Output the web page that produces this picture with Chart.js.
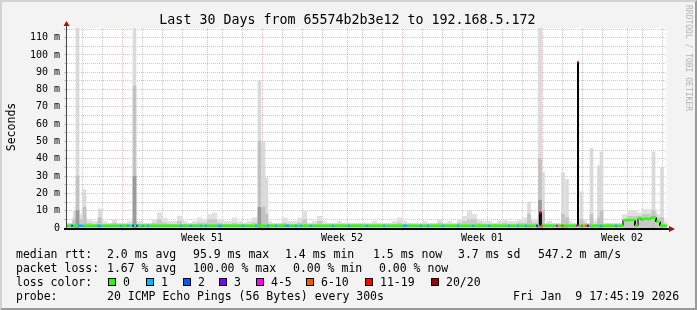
<!DOCTYPE html>
<html>
<head>
<meta charset="utf-8">
<script src="https://cdn.jsdelivr.net/npm/chart.js@4.4.1/dist/chart.umd.min.js"></script>
<style>
  html, body { margin: 0; padding: 0; }
  body { width: 697px; height: 310px; overflow: hidden; position: relative; background: #f3f3f3; }
  #frame { position: absolute; left: 0; top: 0; width: 693px; height: 306px;
    border-top: 2px solid #d2d2d2; border-left: 2px solid #d2d2d2;
    border-right: 2px solid #9a9a9a; border-bottom: 2px solid #9a9a9a; }
  #graph { position: absolute; left: 0; top: 0; }
  .t { position: absolute; font-family: "DejaVu Sans Mono", monospace; white-space: pre; color: #000;
    font-size: 11.5px; line-height: 14px; }
  .box { position: absolute; width: 6px; height: 6px; border: 1px solid #000; }
</style>
</head>
<body>
<div id="frame"></div>
<canvas id="graph" width="697" height="310"></canvas>

<div class="t" style="left:-1px;top:11.5px;width:697px;text-align:center;font-size:13.3px;line-height:16px;">Last 30 Days from 65574b2b3e12 to 192.168.5.172</div>
<div class="t" style="left:693px;top:5px;transform:rotate(90deg);transform-origin:0 0;font-size:8px;line-height:10px;color:#b4b4b4;">RRDTOOL / TOBI OETIKER</div>
<div class="t" style="left:-39px;top:120px;width:100px;text-align:center;transform:rotate(-90deg);">Seconds</div>
<div id="legend"></div>

<script>
// time axis in days since start of the 30 day window, values in ms ("m" = milli seconds)
const weekLabels = ["Week 51", "Week 52", "Week 01", "Week 02"];
const weekStart = [3.25, 10.25, 17.25, 24.25];
const yTicks = [0, 5, 10, 15, 20, 25, 30, 35, 40, 45, 50, 55, 60, 65, 70, 75, 80, 85, 90, 95, 100, 105, 110, 115];

// smoke, one sample every 0.25 day
const sampleDays = 0.25;
const smokeHigh = [
  3, 6, 8, 8, 5, 4, 6, 4, 3, 5,
  3, 3, 4, 4, 4, 3, 3, 5, 9, 6,
  4, 4, 7, 4, 3, 4, 6, 5, 8, 9,
  5, 4, 4, 6, 4, 3, 4, 6, 8, 6,
  4, 3, 3, 6, 4, 4, 6, 10, 3, 4,
  7, 4, 3, 3, 4, 3, 3, 3, 3, 3,
  3, 4, 3, 3, 3, 4, 6, 4, 3, 3,
  3, 4, 3, 3, 5, 3, 4, 3, 5, 7,
  10, 8, 5, 4, 4, 3, 4, 5, 4, 4,
  5, 6, 6, 5, 6, 3, 4, 3, 3, 4,
  4, 3, 4, 5, 3, 4, 4, 3, 3, 3,
  3, 8, 10, 10, 9, 11, 11, 10, 8, 4,
];
const smokeMid = [
  2.4, 4, 5, 5, 3, 2.4, 4, 2.4, 2.4, 3,
  2.4, 2.4, 2.4, 2.4, 2.4, 2.4, 2.4, 3, 5, 3,
  2.4, 2.4, 4, 2.4, 2.4, 2.4, 3, 3, 5, 5,
  3, 2.4, 2.4, 3, 2.4, 2.4, 2.4, 3, 4, 3,
  2.4, 2.4, 2.4, 3, 2.4, 2.4, 3, 5, 2.4, 2.4,
  4, 2.4, 2.4, 2.4, 2.4, 2.4, 2.4, 2.4, 2.4, 2.4,
  2.4, 2.4, 2.4, 2.4, 2.4, 2.4, 3, 2.4, 2.4, 2.4,
  2.4, 2.4, 2.4, 2.4, 3, 2.4, 2.4, 2.4, 3, 4,
  5, 5, 3, 2.4, 2.4, 2.4, 2.4, 3, 2.4, 2.4,
  3, 3, 4, 3, 3, 2.4, 2.4, 2.4, 2.4, 2.4,
  2.4, 2.4, 2.4, 3, 2.4, 2.4, 2.4, 2.4, 2.4, 2.4,
  2.4, 5, 7, 7, 7, 8, 8, 8, 6, 2.4,
];

// narrow smoke spikes
const spikeDays = [0.4, 0.525, 0.875, 1.65, 3.375, 9.625, 9.825, 9.975, 23.1, 23.65, 23.8, 24.8, 25.0, 25.725, 26.225, 26.6, 26.725, 29.325, 29.75];
const spikeTop  = [10, 116, 22, 11, 116, 85, 50, 29, 15, 116, 32, 32, 28, 21, 46, 36, 44, 44, 35];
const spikeMid  = [5, 30, 12, 6, 82, 50, 12, 8, 8, 40, 10, 8, 6, 5, 8, 6, 10, 10, 6];
const spikeDark = [0, 10, 0, 0, 30, 12, 0, 0, 0, 16, 0, 0, 0, 0, 0, 0, 0, 0, 0];

// median rtt as steps: start day, median, lost pings (of 20)
const stepDays = [
  0, 0.2, 0.3, 0.55, 0.8, 1.5, 1.7, 2.65, 2.75, 3.0,
  3.1, 3.25, 3.35, 3.45, 3.55, 3.75, 3.85, 4.0, 4.1, 5.65,
  5.75, 6.15, 6.25, 6.65, 6.75, 6.9, 7.0, 7.55, 7.75, 8.75,
  8.85, 9.4, 9.5, 10.0, 10.1, 10.4, 10.5, 10.9, 11.1, 11.4,
  11.5, 11.65, 11.75, 12.15, 12.25, 13.25, 13.35, 14.05, 14.15, 14.95,
  15.05, 15.8, 15.9, 16.8, 17.0, 17.65, 17.75, 18.0, 18.1, 18.75,
  18.85, 19.5, 19.6, 20.25, 20.35, 21.05, 21.15, 22.05, 22.15, 22.5,
  22.6, 22.9, 23.0, 23.45, 23.55, 23.625, 23.7, 23.8, 24.45, 24.55,
  24.7, 24.85, 25.45, 25.525, 25.575, 25.7, 25.8, 25.9, 26.0, 26.1,
  26.65, 26.75, 27.4, 27.5, 27.8, 28.4, 28.55, 28.7, 28.85, 29.05,
  29.2, 29.45, 29.65,
];
const stepMedian = [
  1.3, 1.3, 1.3, 1.3, 1.3, 1.3, 1.3, 1.3, 1.3, 1.3,
  1.3, 1.3, 1.3, 1.3, 1.3, 1.3, 1.3, 1.3, 1.3, 1.3,
  1.3, 1.3, 1.3, 1.3, 1.3, 1.3, 1.3, 1.3, 1.3, 1.3,
  1.3, 1.3, 1.3, 1.3, 1.3, 1.3, 1.3, 1.3, 1.3, 1.3,
  1.3, 1.3, 1.3, 1.3, 1.3, 1.3, 1.3, 1.3, 1.3, 1.3,
  1.3, 1.3, 1.3, 1.3, 1.3, 1.3, 1.3, 1.3, 1.3, 1.3,
  1.3, 1.3, 1.3, 1.3, 1.3, 1.3, 1.3, 1.3, 1.3, 1.3,
  1.3, 1.3, 1.3, 1.3, 1.3, 9, 1.3, 1.3, 1.3, 1.3,
  1.3, 1.3, 1.3, 95.9, 1.3, 1.3, 1.3, 1.3, 1.3, 1.3,
  1.3, 1.3, 1.3, 1.3, 4.6, 1.3, 5.6, 4.8, 5.4, 5.2,
  6.0, 3.6, 1.3,
];
const stepLoss = [
  0, 2, 0, 1, 0, 1, 0, 1, 0, 1,
  0, 2, 0, 2, 0, 1, 0, 1, 0, 1,
  0, 1, 0, 1, 0, 1, 0, 1, 0, 1,
  0, 1, 0, 1, 0, 1, 0, 1, 0, 1,
  0, 1, 0, 1, 0, 1, 0, 1, 0, 1,
  0, 1, 0, 1, 0, 1, 0, 1, 0, 1,
  0, 1, 0, 1, 0, 1, 0, 1, 0, 1,
  0, 1, 0, 3, 0, 15, 8, 0, 4, 0,
  8, 0, 4, 15, 0, 8, 0, 8, 3, 0,
  1, 0, 1, 0, 0, 0, 0, 0, 0, 0,
  0, 0, 0,
];

const lossLabels = ["0", "1", "2", "3", "4-5", "6-10", "11-19", "20/20"];
const lossColors = ["#26ff00", "#00b8ff", "#0059ff", "#7e00ff", "#ff00ff", "#ff5500", "#ff0000", "#a10000"];

function lossClass(n) {
  if (n <= 3) return n;
  if (n <= 5) return 4;
  if (n <= 10) return 5;
  if (n <= 19) return 6;
  return 7;
}

const weekMid = weekStart.map((d) => d + 3.5);
const dayLines = Array.from({ length: 30 }, (_, k) => 0.25 + k);
const xTicks = dayLines.concat(weekMid).sort((a, b) => a - b);

const majorGrid = "rgba(240, 100, 100, 0.45)";
const minorGrid = "rgba(150, 150, 150, 0.5)";
const monoFont = '"DejaVu Sans Mono", monospace';

const smokePoints = (arr) =>
  arr.map((v, i) => ({ x: i * sampleDays, y: v })).concat([{ x: 30, y: arr[arr.length - 1] }]);

const spikePoints = (arr) => spikeDays.map((d, i) => ({ x: d, y: arr[i] }));

// horizontal + vertical pieces of the median steps
const medianPoints = [];
stepDays.forEach((d, i) => {
  const next = i + 1 < stepDays.length ? stepDays[i + 1] : 30;
  medianPoints.push({ x: d, y: stepMedian[i] });
  medianPoints.push({ x: next, y: stepMedian[i] });
});

const plotBack = {
  id: "plotBack",
  beforeDraw(chart) {
    const { ctx, chartArea: a } = chart;
    ctx.save();
    ctx.fillStyle = "#ffffff";
    ctx.fillRect(a.left, a.top, a.right - a.left, a.bottom - a.top);
    ctx.restore();
  },
};

const axes = {
  id: "axes",
  afterDraw(chart) {
    const { ctx, chartArea: a } = chart;
    ctx.save();
    ctx.fillStyle = "#444";
    ctx.fillRect(a.left - 1, a.top - 4, 1, a.bottom - a.top + 6);
    ctx.fillStyle = "#000";
    ctx.fillRect(a.left - 3, a.bottom, a.right - a.left + 6, 2);
    ctx.fillStyle = "#a31010";
    ctx.beginPath();
    ctx.moveTo(a.left - 0.5, a.top - 7);
    ctx.lineTo(a.left - 3.5, a.top - 2);
    ctx.lineTo(a.left + 2.5, a.top - 2);
    ctx.closePath();
    ctx.fill();
    ctx.beginPath();
    ctx.moveTo(a.right + 8, a.bottom + 1);
    ctx.lineTo(a.right + 2, a.bottom - 2);
    ctx.lineTo(a.right + 2, a.bottom + 4);
    ctx.closePath();
    ctx.fill();
    ctx.restore();
  },
};

new Chart(document.getElementById("graph"), {
  type: "line",
  data: {
    datasets: [
      {
        data: smokePoints(smokeHigh),
        stepped: true,
        fill: "origin",
        backgroundColor: "#e0e0e0",
        borderWidth: 0,
        pointRadius: 0,
        order: 10,
      },
      {
        data: smokePoints(smokeMid),
        stepped: true,
        fill: "origin",
        backgroundColor: "#c8c8c8",
        borderWidth: 0,
        pointRadius: 0,
        order: 9,
      },
      {
        type: "bar",
        data: spikePoints(spikeTop),
        backgroundColor: "#dadada",
        barThickness: 3,
        stack: "smoke",
        order: 8,
      },
      {
        type: "bar",
        data: spikePoints(spikeMid),
        backgroundColor: "#c2c2c2",
        barThickness: 3,
        stack: "smoke",
        order: 7,
      },
      {
        type: "bar",
        data: spikePoints(spikeDark),
        backgroundColor: "#9a9a9a",
        barThickness: 3,
        stack: "smoke",
        order: 6,
      },
      {
        data: medianPoints,
        borderColor: "#000",
        borderWidth: 1,
        pointRadius: 0,
        tension: 0,
        order: 2,
      },
      {
        data: medianPoints,
        borderWidth: 2.5,
        pointRadius: 0,
        tension: 0,
        borderCapStyle: "butt",
        segment: {
          borderColor: (c) =>
            c.p0DataIndex % 2 === 1
              ? "rgba(0,0,0,0)"
              : lossColors[lossClass(stepLoss[Math.floor(c.p0DataIndex / 2)])],
        },
        order: 1,
      },
    ],
  },
  options: {
    responsive: false,
    animation: false,
    events: [],
    layout: { autoPadding: false, padding: { left: 0, right: 30, top: 28, bottom: 62 } },
    plugins: { legend: { display: false }, tooltip: { enabled: false } },
    scales: {
      x: {
        type: "linear",
        min: 0,
        max: 30,
        offset: false,
        afterFit: (s) => { s.height = 20; },
        afterBuildTicks: (s) => { s.ticks = xTicks.map((v) => ({ value: v })); },
        ticks: {
          autoSkip: false,
          maxRotation: 0,
          padding: 1,
          color: "#000",
          font: { family: monoFont, size: 10 },
          callback: (v) => {
            const k = weekMid.indexOf(v);
            return k >= 0 ? weekLabels[k] : "";
          },
        },
        grid: {
          tickLength: 3,
          color: (c) => {
            const v = c.tick ? c.tick.value : -1;
            if (weekMid.includes(v)) return "rgba(0,0,0,0)";
            return weekStart.includes(v) ? majorGrid : minorGrid;
          },
          tickColor: (c) => (c.tick && weekStart.includes(c.tick.value) ? majorGrid : "rgba(0,0,0,0)"),
        },
        border: { display: false, dash: [1, 1] },
      },
      y: {
        type: "linear",
        min: 0,
        max: 115.6,
        stacked: false,
        afterFit: (s) => { s.width = 67; },
        afterBuildTicks: (s) => { s.ticks = yTicks.map((v) => ({ value: v })); },
        ticks: {
          autoSkip: false,
          padding: 4,
          color: "#000",
          font: { family: monoFont, size: 10 },
          callback: (v) => (v % 10 === 0 ? (v === 0 ? "0" : v + " m") : ""),
        },
        grid: {
          tickLength: 3,
          color: (c) => (c.tick && c.tick.value % 10 === 0 ? majorGrid : minorGrid),
        },
        border: { display: false, dash: [1, 1] },
      },
    },
  },
  plugins: [plotBack, axes],
});

// legend below the plot
const legend = document.getElementById("legend");
function addText(txt, x, y) {
  const el = document.createElement("div");
  el.className = "t";
  el.style.left = x + "px";
  el.style.top = y - 7 + "px";
  el.textContent = txt;
  legend.appendChild(el);
}
const row1 = [["median rtt:", 16], ["2.0 ms avg", 107], ["95.9 ms max", 193], ["1.4 ms min", 285], ["1.5 ms now", 373], ["3.7 ms sd", 458], ["547.2 m am/s", 538]];
const row2 = [["packet loss:", 16], ["1.67 % avg", 107], ["100.00 % max", 193], ["0.00 % min", 293], ["0.00 % now", 379]];
const row4 = [["probe:", 16], ["20 ICMP Echo Pings (56 Bytes) every 300s", 107], ["Fri Jan  9 17:45:19 2026", 513]];
row1.forEach(([t, x]) => addText(t, x, 254));
row2.forEach(([t, x]) => addText(t, x, 267.5));
addText("loss color:", 16, 282);
const boxX = [108, 146, 183, 219, 256, 306, 365, 431];
lossLabels.forEach((lab, i) => {
  const b = document.createElement("div");
  b.className = "box";
  b.style.left = boxX[i] + "px";
  b.style.top = "278px";
  b.style.background = lossColors[i];
  legend.appendChild(b);
  addText(lab, boxX[i] + 15, 282);
});
row4.forEach(([t, x]) => addText(t, x, 295.5));
</script>
</body>
</html>
